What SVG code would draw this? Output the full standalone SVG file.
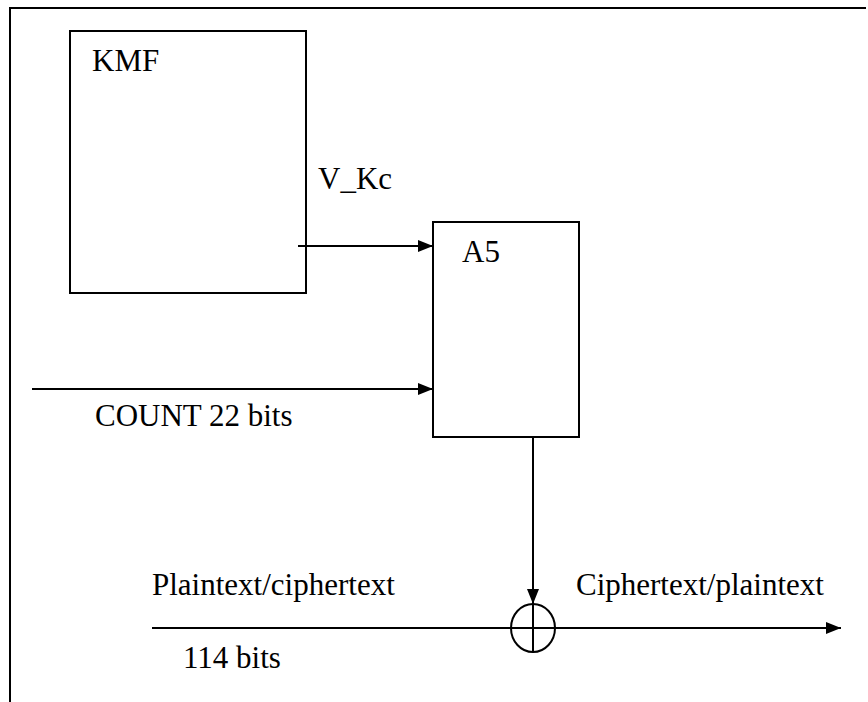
<svg xmlns="http://www.w3.org/2000/svg" width="868" height="702" viewBox="0 0 868 702">
<defs>
<style>
.box{fill:#fff;stroke:#000;stroke-width:2}
.ln{fill:none;stroke:#000;stroke-width:2}
.t{font-family:"Liberation Serif","Times New Roman",serif;font-size:31px;fill:#000}
</style>
<marker id="ah" viewBox="0 0 15 12" refX="15" refY="6" markerWidth="15" markerHeight="12" markerUnits="userSpaceOnUse" orient="auto">
<path d="M0,0 L15,6 L0,12 Z" fill="#000"/>
</marker>
</defs>
<rect width="868" height="702" fill="#fff"/>
<g id="frame">
<path class="ln" d="M10,702 L10,8 L866,8" stroke-width="3"/>
</g>
<g id="kmf">
<rect class="box" x="70" y="31" width="236" height="262"/>
<text class="t" x="92" y="71">KMF</text>
</g>
<g id="a5">
<rect class="box" x="433" y="222" width="146" height="215"/>
<text class="t" x="462" y="262">A5</text>
</g>
<g id="xor">
<ellipse class="ln" cx="533" cy="628" rx="22" ry="24"/>
<line class="ln" x1="533" y1="604" x2="533" y2="652"/>
</g>
<g id="connectors">
<line class="ln" x1="298" y1="246" x2="433" y2="246" marker-end="url(#ah)"/>
<line class="ln" x1="32" y1="389" x2="433" y2="389" marker-end="url(#ah)"/>
<line class="ln" x1="533" y1="437" x2="533" y2="604" marker-end="url(#ah)"/>
<line class="ln" x1="152" y1="628" x2="841" y2="628" marker-end="url(#ah)"/>
</g>
<g id="labels">
<text class="t" x="318" y="189">V_Kc</text>
<text class="t" x="95" y="426">COUNT 22 bits</text>
<text class="t" x="152" y="595">Plaintext/ciphertext</text>
<text class="t" x="576" y="595">Ciphertext/plaintext</text>
<text class="t" x="183" y="668">114 bits</text>
</g>
</svg>
